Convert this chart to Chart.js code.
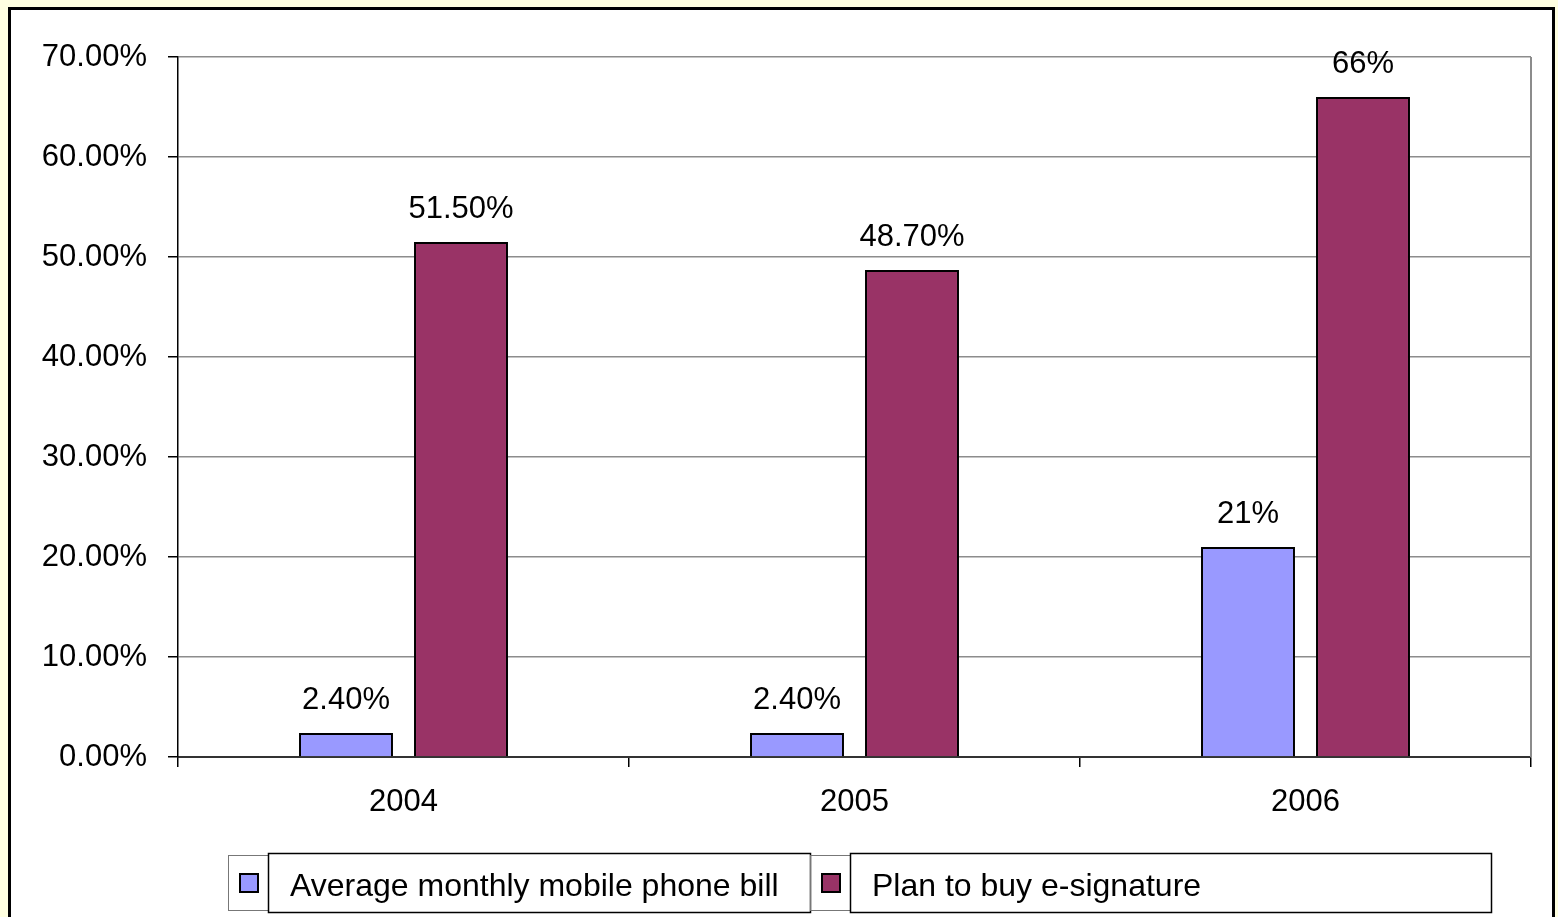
<!DOCTYPE html>
<html>
<head>
<meta charset="utf-8">
<script src="https://cdn.jsdelivr.net/npm/chart.js@4"></script>
<style>
    html, body { margin: 0; padding: 0; background: #FFFFE0; overflow: hidden; }
    #grafico { display: block; }
</style>
</head>
<body>
<canvas id="grafico" width="1558" height="917"></canvas>
<script>
const anos = ['2004', '2005', '2006']
const contaCelular = [2.4, 2.4, 21]
const assinaturaDigital = [51.5, 48.7, 66]
const rotulosConta = ['2.40%', '2.40%', '21%']
const rotulosAssinatura = ['51.50%', '48.70%', '66%']
const nomesSeries = ['Average monthly mobile phone bill', 'Plan to buy e-signature']
const coresSeries = ['#9999FF', '#993366']

const fonte = "'Liberation Sans', Arial, sans-serif"

// moldura preta e fundo branco atrás do gráfico
const moldura = {
    id: 'moldura',
    beforeDraw(chart) {
        const ctx = chart.ctx
        ctx.save()
        ctx.fillStyle = '#FFFFE0'
        ctx.fillRect(0, 0, chart.width, chart.height)
        ctx.fillStyle = '#FFFFFF'
        ctx.fillRect(9, 9, 1545, 920)
        ctx.strokeStyle = '#000'
        ctx.lineWidth = 3
        ctx.strokeRect(9.5, 8.5, 1544, 930)
        ctx.restore()
    },
    afterDraw(chart) {
        const { ctx, chartArea } = chart
        ctx.save()
        ctx.strokeStyle = '#8C8C8C'
        ctx.lineWidth = 2
        ctx.beginPath()
        ctx.moveTo(chartArea.right, chartArea.top)
        ctx.lineTo(chartArea.right, chartArea.bottom)
        ctx.stroke()
        ctx.restore()
    }
}

// valores escritos acima de cada barra
const rotulosBarras = {
    id: 'rotulosBarras',
    afterDatasetsDraw(chart) {
        const ctx = chart.ctx
        const textos = [rotulosConta, rotulosAssinatura]
        ctx.save()
        ctx.font = '31px ' + fonte
        ctx.fillStyle = '#000'
        ctx.textAlign = 'center'
        ctx.textBaseline = 'alphabetic'
        chart.data.datasets.forEach((ds, i) => {
            chart.getDatasetMeta(i).data.forEach((barra, j) => {
                ctx.fillText(textos[i][j], barra.x, barra.y - 24)
            })
        })
        ctx.restore()
    }
}

// legenda em caixas, abaixo do eixo
const legendaCaixas = {
    id: 'legendaCaixas',
    afterDraw(chart) {
        const ctx = chart.ctx
        const itens = [
            { cel: 228, txt: 268, fim: 810 },
            { cel: 810, txt: 850, fim: 1491 }
        ]
        ctx.save()
        itens.forEach((it, i) => {
            ctx.strokeStyle = '#777'
            ctx.lineWidth = 1
            ctx.strokeRect(it.cel + 0.5, 855.5, it.txt - it.cel, 55)

            ctx.fillStyle = '#FFFFFF'
            ctx.fillRect(it.txt, 853, it.fim - it.txt, 60)
            ctx.strokeStyle = '#000'
            ctx.lineWidth = 1.5
            ctx.strokeRect(it.txt + 0.5, 853.5, it.fim - it.txt, 59)

            ctx.fillStyle = coresSeries[i]
            ctx.fillRect(it.cel + 12, 874, 18, 18)
            ctx.strokeStyle = '#000'
            ctx.lineWidth = 2
            ctx.strokeRect(it.cel + 12, 874, 18, 18)

            ctx.fillStyle = '#000'
            ctx.font = '32px ' + fonte
            ctx.textAlign = 'left'
            ctx.textBaseline = 'middle'
            ctx.fillText(nomesSeries[i], it.txt + 22, 887)
        })
        ctx.restore()
    }
}

const ctx = document.getElementById('grafico').getContext('2d')
new Chart(ctx, {
    type: 'bar',
    data: {
        labels: anos,
        datasets: [{
            label: nomesSeries[0],
            data: contaCelular,
            backgroundColor: coresSeries[0],
            borderColor: '#000',
            borderWidth: 2,
            borderSkipped: 'bottom'
        }, {
            label: nomesSeries[1],
            data: assinaturaDigital,
            backgroundColor: coresSeries[1],
            borderColor: '#000',
            borderWidth: 2,
            borderSkipped: 'bottom'
        }]
    },
    options: {
        responsive: false,
        animation: false,
        events: [],
        categoryPercentage: 0.51,
        barPercentage: 0.817,
        layout: {
            padding: { left: 0, top: 57, right: 27, bottom: 100 }
        },
        scales: {
            x: {
                afterFit: s => { s.height = 60 },
                grid: {
                    offset: true,
                    drawOnChartArea: false,
                    drawTicks: true,
                    tickLength: 10,
                    tickColor: '#000',
                    lineWidth: 1.5
                },
                border: { color: '#333', width: 2 },
                ticks: {
                    color: '#000',
                    padding: 17,
                    font: { family: fonte, size: 31 }
                }
            },
            y: {
                min: 0,
                max: 70,
                afterFit: s => { s.width = 178 },
                grid: {
                    color: '#8C8C8C',
                    lineWidth: 1.5,
                    tickLength: 10,
                    tickColor: '#000'
                },
                border: { color: '#000', width: 1.5 },
                ticks: {
                    stepSize: 10,
                    color: '#000',
                    padding: 21,
                    font: { family: fonte, size: 31 },
                    callback: v => v.toFixed(2) + '%'
                }
            }
        },
        plugins: {
            legend: { display: false },
            tooltip: { enabled: false }
        }
    },
    plugins: [moldura, rotulosBarras, legendaCaixas]
})
</script>
</body>
</html>
